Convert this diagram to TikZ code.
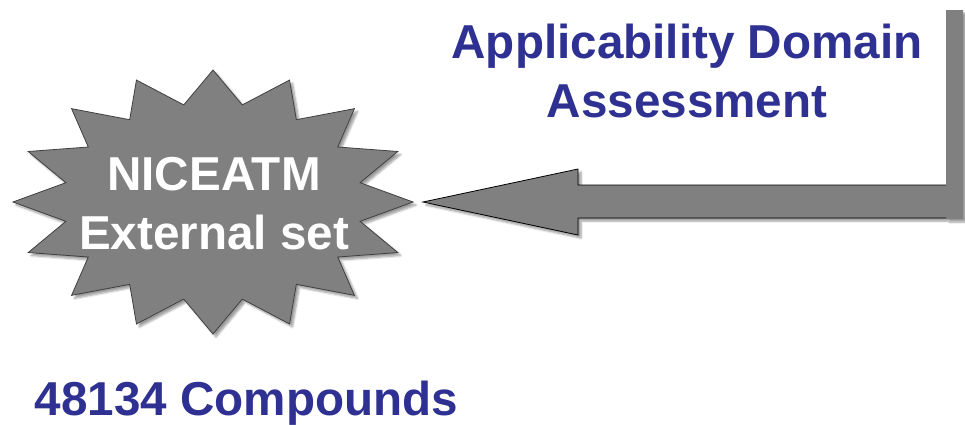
\documentclass[tikz,border=0pt]{standalone}
\usepackage{fontspec}
\setmainfont{Liberation Sans}
\usepackage{tikz}
\usetikzlibrary{
  shadows.blur
}
\colorlet{burstgray}{black!50}
\definecolor{titleblue}{RGB}{46,49,146}

\begin{document}
\begin{tikzpicture}[
  x=1pt, y=-1pt,
  every label text/.style={font=\bfseries\fontsize{47.6}{59}\selectfont, align=center, inner sep=0pt},
  burst/.style={fill=burstgray, draw=black!75, line width=0.8pt, line join=miter,
    blur shadow={shadow xshift=3pt, shadow yshift=-3pt, shadow blur steps=6, shadow opacity=40}},
  bigarrow/.style={fill=burstgray,
    blur shadow={shadow xshift=3pt, shadow yshift=-3pt, shadow blur steps=6, shadow opacity=40}}
]
\useasboundingbox (0,0) rectangle (965,424);

\coordinate (B) at (213,202);
\path[burst, shift={(B)}] (0:200 and 132)
  \foreach \i [evaluate=\i as \r using {mod(\i,2)==0 ? 1 : 0.75}] in {1,...,31} {
    -- ({\i*11.25}:{200*\r} and {132*\r})
  } -- cycle;

\coordinate (tip) at (423,202);
\path[bigarrow] (tip) -- (578,169) -- (578,185) -- (946,185) -- (946,10)
  -- (963,10) -- (963,219) -- (946,219) -- (946,218) -- (578,218) -- (578,235) -- cycle;
\draw[line width=0.8pt, line join=miter] (946,185) -- (578,185) -- (578,169) -- (tip)
  -- (578,235) -- (578,218) -- (946,218);

\node[every label text, text=white] (set) at (214,204) {NICEATM\\External set};
\node[every label text, text=titleblue] (AD) at (687,71) {Applicability Domain\\Assessment};
\node[every label text, text=titleblue, anchor=base] (N) at (246.5,415) {48134 Compounds};
\end{tikzpicture}
\end{document}
